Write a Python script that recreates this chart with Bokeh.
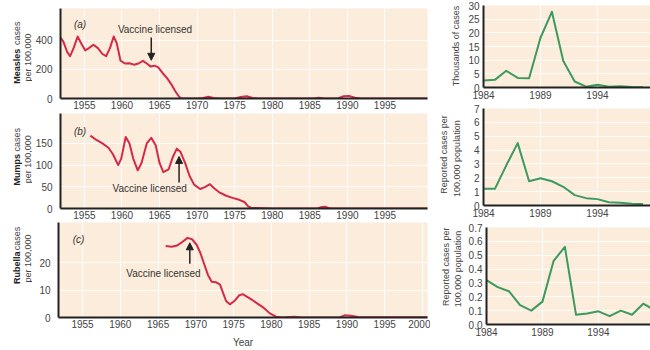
from math import pi
from bokeh.plotting import figure
from bokeh.layouts import row, column
from bokeh.models import Range1d, FixedTicker, Label, Arrow, NormalHead, PrintfTickFormatter
from bokeh.embed import file_html
from bokeh.resources import INLINE

# ---------------- data ----------------
measles_year = [1951.8, 1952.2, 1952.7, 1953.1, 1953.6, 1954.1, 1954.6, 1955.1, 1955.6, 1956.2,
                1956.8, 1957.4, 1957.9, 1958.4, 1958.9, 1959.3, 1959.8, 1960.4, 1961.0, 1961.6,
                1962.2, 1962.8, 1963.3, 1963.8, 1964.3, 1964.8, 1965.4, 1966.0, 1966.6, 1967.1,
                1967.6, 1968.0, 1970.0, 1970.8, 1971.5, 1972.2, 1973.0, 1975.0, 1975.8, 1976.6,
                1977.4, 1978.2, 1985.5, 1986.2, 1987.0, 1988.8, 1989.5, 1990.2, 1991.0, 1991.8, 2000.7]
measles_rate = [420, 390, 320, 290, 350, 425, 375, 330, 345, 368,
                345, 305, 290, 345, 425, 380, 260, 240, 242, 232,
                240, 258, 240, 220, 225, 215, 175, 140, 95, 50,
                12, 0, 0, 4, 12, 4, 0, 0, 10, 16,
                4, 0, 0, 6, 0, 2, 15, 18, 6, 0, 0]

mumps_year = [1955.8, 1956.6, 1957.4, 1958.2, 1958.8, 1959.5, 1959.9, 1960.5, 1961.0, 1961.5,
              1962.1, 1962.6, 1963.3, 1963.9, 1964.5, 1965.0, 1965.5, 1966.2, 1966.8, 1967.3,
              1967.8, 1968.4, 1969.0, 1969.6, 1970.4, 1971.1, 1971.7, 1972.3, 1972.9, 1973.8,
              1974.6, 1975.6, 1976.3, 1976.8, 1977.3, 1978.0, 1980.0, 1986.0, 1986.5, 1987.0,
              1987.5, 1988.0, 2000.7]
mumps_rate = [168, 158, 150, 140, 125, 100, 115, 165, 150, 115,
              88, 105, 150, 163, 145, 105, 84, 90, 120, 138,
              130, 105, 75, 55, 45, 50, 56, 46, 38, 30,
              25, 20, 15, 5, 1, 1, 0, 0, 3, 4,
              1, 0, 0]

rubella_year = [1966.0, 1966.8, 1967.5, 1968.2, 1968.9, 1969.5, 1970.1, 1970.6, 1971.1, 1971.6,
                1972.1, 1972.7, 1973.2, 1973.6, 1974.0, 1974.5, 1975.1, 1975.7, 1976.2, 1976.8,
                1977.5, 1978.3, 1979.0, 1979.8, 1980.6, 1981.5, 1983.0, 1984.0, 1989.0, 1989.7,
                1990.5, 1991.5, 2000.7]
rubella_rate = [26.0, 25.8, 26.2, 27.5, 29.0, 28.5, 26.5, 23.5, 19.5, 15.5,
                13.0, 12.8, 12.0, 9.0, 6.0, 4.8, 6.0, 8.0, 8.5, 7.5,
                6.3, 4.8, 3.5, 1.5, 0.3, 0.0, 0.3, 0.0, 0.0, 0.8,
                0.6, 0.2, 0.1]

recent_years = [1984, 1985, 1986, 1987, 1988, 1989, 1990, 1991, 1992, 1993, 1994, 1995, 1996, 1997, 1998]
measles_thousands = [2.6, 2.8, 6.1, 3.5, 3.4, 18.2, 27.7, 9.7, 2.2, 0.3, 1.0, 0.3, 0.5, 0.15, 0.1]
mumps_recent = [1.2, 1.2, 2.9, 4.5, 1.75, 1.97, 1.75, 1.35, 0.75, 0.53, 0.46, 0.24, 0.2, 0.12, 0.1]
rubella_years = [1984, 1985, 1986, 1987, 1988, 1989, 1990, 1991, 1992, 1993, 1994, 1995, 1996, 1997, 1998, 1999]
rubella_recent = [0.32, 0.27, 0.24, 0.14, 0.10, 0.165, 0.46, 0.56, 0.07, 0.08, 0.095, 0.06, 0.10, 0.07, 0.15, 0.105]

left_ticks_ab = [1955, 1960, 1965, 1970, 1975, 1980, 1985, 1990, 1995]
left_ticks_c = [1955, 1960, 1965, 1970, 1975, 1980, 1985, 1990, 1995, 2000]
right_ticks = [1984, 1989, 1994, 1999]
measles_yticks = [0, 200, 400]
mumps_yticks = [0, 50, 100, 150]
rubella_yticks = [0, 10, 20]
measles_thousand_ticks = [0, 5, 10, 15, 20, 25, 30]
mumps_recent_ticks = [0, 1, 2, 3, 4, 5, 6, 7]
rubella_recent_ticks = [0, 0.1, 0.2, 0.3, 0.4, 0.5, 0.6, 0.7]

# ---------------- styling ----------------
FONT = "Liberation Sans"
BG = "#fcecdb"
RED = "#d42a47"
GREEN = "#3d9a5e"
TXT = "#444444"


def style_axes(p, xticks, yticks, xstand, ystand):
    p.background_fill_color = BG
    p.border_fill_color = "white"
    p.outline_line_color = None
    p.xaxis.ticker = FixedTicker(ticks=xticks)
    p.yaxis.ticker = FixedTicker(ticks=yticks)
    for ax in (p.xaxis, p.yaxis):
        ax.axis_line_width = 2
        ax.axis_line_color = "#222222"
        ax.major_tick_out = 0
        ax.major_tick_in = 0
        ax.minor_tick_out = 0
        ax.minor_tick_in = 0
        ax.major_label_text_font = FONT
        ax.major_label_text_font_size = "10px"
        ax.major_label_text_color = TXT
    p.xaxis.major_label_standoff = xstand
    p.yaxis.major_label_standoff = ystand
    p.grid.grid_line_color = "white"
    p.grid.grid_line_width = 1
    p.grid.grid_line_alpha = 0.9


def left_fig(height, top, bottom, ymax, xticks, yticks):
    p = figure(width=398, height=height, x_range=Range1d(1951.82, 2000.66), y_range=Range1d(0, ymax),
               output_backend="svg", toolbar_location=None,
               min_border_left=26, min_border_right=3, min_border_top=top, min_border_bottom=bottom)
    style_axes(p, xticks, yticks, 2, 8)
    return p


def right_fig(height, top, bottom, ymax, yticks):
    p = figure(width=185, height=height, x_range=Range1d(1984, 1998.65), y_range=Range1d(0, ymax),
               output_backend="svg", toolbar_location=None,
               min_border_left=18, min_border_right=0, min_border_top=top, min_border_bottom=bottom)
    style_axes(p, right_ticks, yticks, 3, 4)
    return p


def label_fig(width, height):
    # a blank strip (no axes) that only carries the rotated axis titles
    p = figure(width=width, height=height, x_range=Range1d(0, width), y_range=Range1d(0, height),
               x_axis_type=None, y_axis_type=None, title=None,
               output_backend="svg", toolbar_location=None,
               min_border_left=0, min_border_right=0, min_border_top=0, min_border_bottom=0)
    p.outline_line_color = None
    p.background_fill_color = "white"
    p.border_fill_color = "white"
    return p


def txt(p, x, y, text, angle=0.0, align="center", bold=False, italic=False, color=TXT, size="10px"):
    style = "bold" if bold else ("italic" if italic else "normal")
    p.add_layout(Label(x=x, y=y, text=text, angle=angle,
                       text_align=align, text_baseline="middle", text_font=FONT,
                       text_font_size=size, text_font_style=style, text_color=color))


def vtxt(p, x, y, text, bold=False, color=TXT):
    txt(p, x, y, text, angle=pi / 2, bold=bold, color=color, size="9px")


def ylabel2(p, name, name_c, cases_c, per_c):
    vtxt(p, 16, name_c, name, bold=True, color="#222222")
    vtxt(p, 16, cases_c, "cases")
    vtxt(p, 27, per_c, "per 100,000")


def vaccine(p, tx, ty, ax, ay0, ay1):
    txt(p, tx, ty, "Vaccine licensed", color="#333333")
    p.add_layout(Arrow(x_start=ax, y_start=ay0, x_end=ax, y_end=ay1, line_width=1.5, line_color="#222222",
                       end=NormalHead(size=7, fill_color="#222222", line_color="#222222")))


# ---------------- left panels ----------------
pa = left_fig(113, 8, 15, 617, left_ticks_ab, measles_yticks)
pa.line(measles_year, measles_rate, line_color=RED, line_width=2, line_join="round")
txt(pa, 1953.6, 506, "(a)", align="left", italic=True, color="#333333")
vaccine(pa, 1964.4, 473, 1963.9, 418, 262)
la = label_fig(32, 113)
ylabel2(la, "Measles", 40.5, 82, 51.5)

pb = left_fig(109, 0, 14, 219, left_ticks_ab, mumps_yticks)
pb.line(mumps_year, mumps_rate, line_color=RED, line_width=2, line_join="round")
txt(pb, 1953.6, 177, "(b)", align="left", italic=True, color="#333333")
vaccine(pb, 1963.7, 46, 1967.6, 60, 120)
lb = label_fig(32, 109)
ylabel2(lb, "Mumps", 44.5, 79, 56.5)

pc = left_fig(128, 0, 31, 34.6, left_ticks_c, rubella_yticks)
pc.line(rubella_year, rubella_rate, line_color=RED, line_width=2, line_join="round")
txt(pc, 1953.7, 28.5, "(c)", align="left", italic=True, color="#333333")
vaccine(pc, 1965.7, 16, 1969.2, 19.6, 27.2)
pc.xaxis.axis_label = "Year"
pc.xaxis.axis_label_standoff = 6
pc.xaxis.axis_label_text_font = FONT
pc.xaxis.axis_label_text_font_size = "10px"
pc.xaxis.axis_label_text_font_style = "normal"
pc.xaxis.axis_label_text_color = TXT
lc = label_fig(32, 128)
ylabel2(lc, "Rubella", 67, 106.5, 79.5)

# ---------------- right panels ----------------
pd = right_fig(101, 5, 14, 30, measles_thousand_ticks)
pd.line(recent_years, measles_thousands, line_color=GREEN, line_width=2, line_join="round")
ld = label_fig(35, 101)
vtxt(ld, 25, 51, "Thousands of cases")

pe = right_fig(118, 7, 14, 7, mumps_recent_ticks)
pe.line(recent_years, mumps_recent, line_color=GREEN, line_width=2, line_join="round")
le = label_fig(35, 118)
vtxt(le, 13, 62, "Reported cases per")
vtxt(le, 26, 57, "100,000 population")

pf = right_fig(131, 8, 26, 0.7, rubella_recent_ticks)
pf.yaxis.formatter = PrintfTickFormatter(format="%.1f")
pf.line(rubella_years, rubella_recent, line_color=GREEN, line_width=2, line_join="round")
lf = label_fig(35, 131)
vtxt(lf, 15, 78, "Reported cases per")
vtxt(lf, 27, 75, "100,000 population")

left_col = column(row(la, pa), row(lb, pb), row(lc, pc))
right_col = column(row(ld, pd), row(le, pe), row(lf, pf))
layout = row(left_col, right_col)

open("out.html", "w").write(file_html(layout, INLINE))
